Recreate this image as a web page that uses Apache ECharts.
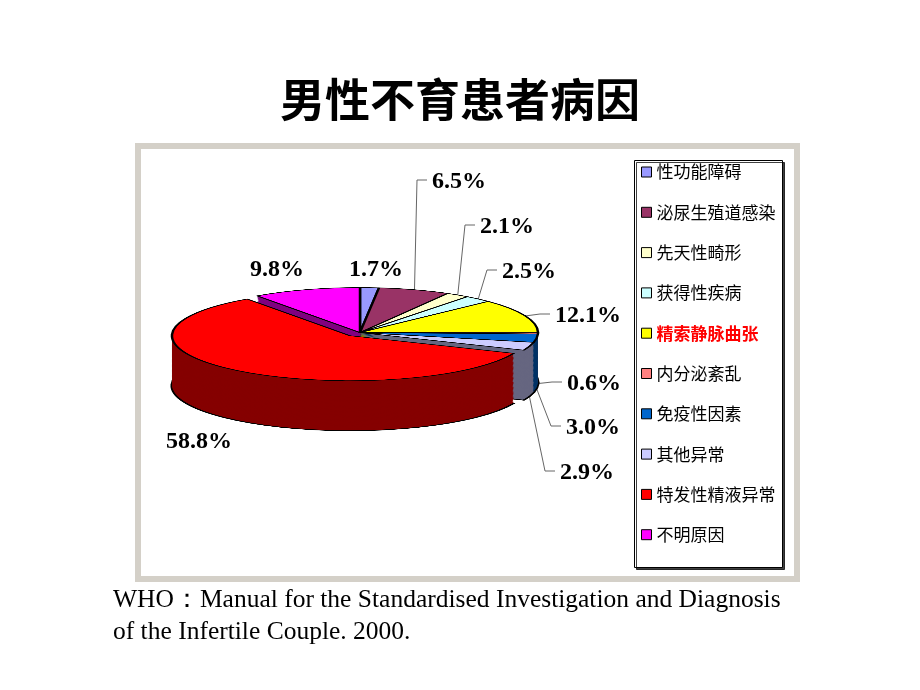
<!DOCTYPE html>
<html>
<head>
<meta charset="utf-8">
<title>男性不育患者病因</title>
<script src="https://cdn.jsdelivr.net/npm/echarts@6/dist/echarts.min.js"></script>
<style>
  html, body { margin: 0; padding: 0; background: #fff; }
  #main { position: absolute; left: 0; top: 0; width: 920px; height: 690px; }
  #pie { position: absolute; left: 150px; top: 0; width: 420px; height: 600px; transform-origin: 0 0; }
</style>
</head>
<body>
<div id="main"></div>
<div id="pie"></div>
<script>
// 病因分类
var causes = ['性功能障碍', '泌尿生殖道感染', '先天性畸形', '获得性疾病', '精索静脉曲张',
              '内分泌紊乱', '免疫性因素', '其他异常', '特发性精液异常', '不明原因'];
// 百分比
var percents = [1.7, 6.5, 2.1, 2.5, 12.1, 0.6, 3.0, 2.9, 58.8, 9.8];

// 顶面 / 侧面颜色
var topColors = ['#9999FF', '#993366', '#FFFFCC', '#CCFFFF', '#FFFF00',
                 '#FF8080', '#0066CC', '#CCCCFF', '#FF0000', '#FF00FF'];
var sideColors = ['#4D4D80', '#4D1A33', '#808066', '#668080', '#808000',
                  '#804040', '#003366', '#666680', '#850000', '#800080'];

// 标签位置 (左端 x, 中心 y)
var labelX = [349, 432, 480, 502, 555, 567, 566, 560, 166, 250];
var labelY = [270, 182, 227, 272, 316, 384, 428, 473, 442, 270];
var hasLine = [false, true, true, true, true, true, true, true, false, false];

// 椭圆饼图几何 (屏幕像素)
var CX = 360, CY = 333, RX = 178, RY = 45, DEPTH = 50;
var SY = RY / RX;

// 每个扇区的中间角度
var total = percents.reduce(function (s, v) { return s + v; }, 0);
var acc = 0;
var midAngles = percents.map(function (v) {
  var m = (acc + v / 2) / total * 2 * Math.PI;
  acc += v;
  return m;
});

function anchorOf(i) {
  var t = midAngles[i];
  var x = CX + RX * Math.sin(t);
  var y = CY - RY * Math.cos(t);
  if (Math.cos(t) < 0) y += DEPTH;
  return [x, y];
}

// 3D 饼图: 压扁的画布 + 多层叠加
function initializePie() {
  var el = document.getElementById('pie');
  var cyU = 200;
  el.style.top = (CY - cyU * SY) + 'px';
  el.style.transform = 'scaleY(' + SY + ')';
  var chart = echarts.init(el);

  var depthU = DEPTH / SY;
  var layers = 60;
  var series = [];
  for (var k = 0; k <= layers; k++) {
    var isTop = k === layers;
    var off = depthU * (1 - k / layers);
    var border;
    if (isTop) border = { borderColor: '#000', borderWidth: 2.5 };
    else if (k === 0) border = { borderColor: '#000', borderWidth: 3 };
    else border = { borderWidth: 0 };
    series.push({
      type: 'pie',
      silent: true,
      z: 2 + k,
      center: [210, cyU + off],
      radius: [0, RX],
      startAngle: 90,
      selectedMode: 'single',
      selectedOffset: 16,
      label: { show: false },
      labelLine: { show: false },
      emphasis: { disabled: true },
      itemStyle: border,
      data: causes.map(function (n, i) {
        return {
          name: n,
          value: percents[i],
          selected: i === 8,
          itemStyle: { color: isTop ? topColors[i] : sideColors[i] }
        };
      })
    });
  }
  chart.setOption({ animation: false, series: series });
  return chart;
}

// 标题、图例、标签
function initializeMain() {
  var chart = echarts.init(document.getElementById('main'));
  var option = {
    animation: false,
    backgroundColor: '#fff',
    title: [
      {
        text: '男性不育患者病因',
        left: 'center',
        top: 71,
        textStyle: { fontFamily: 'Noto Sans CJK SC', fontSize: 45, fontWeight: 'bold', color: '#000', lineHeight: 48 }
      },
      {
        text: 'WHO：Manual for the Standardised Investigation and Diagnosis\nof the Infertile Couple. 2000.',
        left: 108,
        top: 579,
        textStyle: { fontFamily: 'Liberation Serif', fontSize: 25.5, fontWeight: 'normal', color: '#000', lineHeight: 32 }
      }
    ],
    graphic: [
      {
        type: 'rect', silent: true, z: -1,
        shape: { x: 138, y: 146, width: 659, height: 433 },
        style: { fill: '#fff', stroke: '#D4D0C8', lineWidth: 6 }
      },
      {
        type: 'rect', silent: true, z: 1,
        shape: { x: 634.5, y: 160.5, width: 148, height: 407 },
        style: { fill: '#fff', stroke: '#000', lineWidth: 1, shadowColor: 'rgba(0,0,0,0.75)', shadowOffsetX: 2, shadowOffsetY: 2, shadowBlur: 0 }
      }
    ],
    legend: {
      orient: 'vertical',
      left: 641,
      top: 162,
      padding: 0,
      itemWidth: 10,
      itemHeight: 10,
      itemGap: 20.3,
      icon: 'rect',
      selectedMode: false,
      itemStyle: { borderColor: '#000', borderWidth: 1 },
      textStyle: { fontFamily: 'Noto Sans CJK SC', fontSize: 17, color: '#000', lineHeight: 20 },
      data: causes.map(function (n, i) {
        return i === 4 ? { name: n, textStyle: { color: '#FF0000', fontWeight: 'bold' } } : { name: n };
      })
    },
    series: [{
      type: 'pie',
      silent: true,
      center: [CX, CY],
      radius: [0, 8],
      startAngle: 90,
      avoidLabelOverlap: false,
      label: {
        show: true,
        formatter: function (p) { return p.value.toFixed(1) + '%'; },
        fontFamily: 'Liberation Serif',
        fontWeight: 'bold',
        fontSize: 24,
        color: '#000'
      },
      labelLine: { show: true, lineStyle: { color: '#666', width: 1 } },
      labelLayout: function (p) {
        var i = p.dataIndex;
        var res = { x: labelX[i], y: labelY[i], align: 'left', verticalAlign: 'middle' };
        if (hasLine[i]) {
          var ly = labelY[i] - 2;
          res.labelLinePoints = [anchorOf(i), [labelX[i] - 15, ly], [labelX[i] - 5, ly]];
        }
        return res;
      },
      data: causes.map(function (n, i) {
        return {
          name: n,
          value: percents[i],
          itemStyle: { color: topColors[i] },
          labelLine: { show: hasLine[i] }
        };
      })
    }]
  };
  chart.setOption(option);
  return chart;
}

initializeMain();
initializePie();
</script>
</body>
</html>
